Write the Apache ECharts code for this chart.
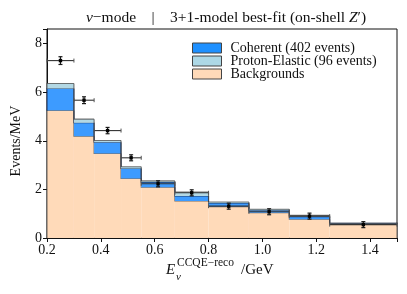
<!DOCTYPE html>
<html><head><meta charset="utf-8">
<script src="https://cdn.jsdelivr.net/npm/echarts@6/dist/echarts.min.js"></script>
<style>html,body{margin:0;padding:0;background:#fff}#c{width:407px;height:294px}</style>
</head><body><div id="c"></div>
<script>
// ---- data (Events/MeV) ----
const binEdges = [0.2, 0.3, 0.375, 0.475, 0.55, 0.675, 0.8, 0.95, 1.1, 1.25, 1.5];
const backgrounds   = [5.25, 4.19, 3.48, 2.45, 2.09, 1.52, 1.29, 1.04, 0.77, 0.57];
const coherent      = [0.90, 0.55, 0.46, 0.41, 0.21, 0.21, 0.15, 0.10, 0.11, 0.03];
const protonElastic = [0.21, 0.15, 0.07, 0.07, 0.05, 0.16, 0.04, 0.04, 0.05, 0.01];
const dataValues    = [7.30, 5.67, 4.42, 3.30, 2.23, 1.86, 1.31, 1.08, 0.90, 0.55];
const dataErrors    = [0.16, 0.14, 0.13, 0.11, 0.08, 0.07, 0.05, 0.05, 0.05, 0.03];
const xTicks = [0.2, 0.4, 0.6, 0.8, 1.0, 1.2, 1.4];
const yTicks = [0, 2, 4, 6, 8];
const seriesNames = ['Coherent (402 events)', 'Proton-Elastic (96 events)', 'Backgrounds'];

const SERIF = '"Liberation Serif", "DejaVu Serif", serif';

function layerData(bottoms, heights) {
  const out = [];
  for (let i = 0; i < heights.length; i++) {
    const b = bottoms[i], t = bottoms[i] + heights[i];
    const prevTop = i > 0 ? bottoms[i - 1] + heights[i - 1] : b;
    out.push([binEdges[i], binEdges[i + 1], b, t, prevTop, i === heights.length - 1 ? 1 : 0]);
  }
  return out;
}
const zeros = backgrounds.map(() => 0);
const cohBottom = backgrounds.slice();
const peBottom = backgrounds.map((v, i) => v + coherent[i]);

function makeLayerRender(fill, stroke) {
  return function (params, api) {
    const x0 = api.value(0), x1 = api.value(1), b = api.value(2), t = api.value(3);
    const prevTop = api.value(4), isLast = api.value(5);
    const pb0 = api.coord([x0, b]);
    const pt1 = api.coord([x1, t]);
    const pPrev = api.coord([x0, prevTop]);
    const pt0 = api.coord([x0, t]);
    const pb1 = api.coord([x1, b]);
    const children = [{
      type: 'rect',
      shape: { x: pb0[0], y: pt1[1], width: pt1[0] - pb0[0], height: pb0[1] - pt1[1] },
      style: { fill: fill }
    }];
    const pts = [[pPrev[0], pPrev[1]], [pt0[0], pt0[1]], [pt1[0], pt1[1]]];
    if (isLast) pts.push([pb1[0], pb1[1]]);
    children.push({
      type: 'polyline', shape: { points: pts },
      style: { stroke: stroke, lineWidth: 1.1, fill: null }
    });
    return { type: 'group', children: children };
  };
}

function dataRender(params, api) {
  const x0 = api.value(0), x1 = api.value(1), y = api.value(2), e = api.value(3);
  const xc = (x0 + x1) / 2;
  const pl = api.coord([x0, y]), pr = api.coord([x1, y]);
  const pc = api.coord([xc, y]);
  const pu = api.coord([xc, y + e]), pd = api.coord([xc, y - e]);
  const st = { stroke: '#1a1a1a', lineWidth: 1.2 };
  const yTop = Math.min(pu[1], pc[1] - 3), yBot = Math.max(pd[1], pc[1] + 3);
  return {
    type: 'group', children: [
      { type: 'line', shape: { x1: pl[0], y1: pl[1], x2: pr[0], y2: pr[1] }, style: { stroke: '#333', lineWidth: 1.1 } },
      { type: 'line', shape: { x1: pl[0], y1: pl[1] - 2, x2: pl[0], y2: pl[1] + 2 }, style: { stroke: '#555', lineWidth: 1 } },
      { type: 'line', shape: { x1: pr[0], y1: pr[1] - 2, x2: pr[0], y2: pr[1] + 2 }, style: { stroke: '#555', lineWidth: 1 } },
      { type: 'line', shape: { x1: pu[0], y1: yTop, x2: pd[0], y2: yBot }, style: st },
      { type: 'line', shape: { x1: pu[0] - 2, y1: yTop, x2: pu[0] + 2, y2: yTop }, style: st },
      { type: 'line', shape: { x1: pd[0] - 2, y1: yBot, x2: pd[0] + 2, y2: yBot }, style: st },
      { type: 'rect', shape: { x: pc[0] - 1.7, y: pc[1] - 1.7, width: 3.4, height: 3.4 }, style: { fill: '#000' } }
    ]
  };
}

const dataPts = dataValues.map((v, i) => [binEdges[i], binEdges[i + 1], v, dataErrors[i]]);

const chart = echarts.init(document.getElementById('c'), null, { renderer: 'canvas' });
chart.setOption({
  animation: false,
  backgroundColor: '#fff',
  title: {
    text: '{i|ν}−mode    |    3+1-model best-fit (on-shell {i|Z}′)',
    left: 221, textAlign: 'center', top: 5,
    textStyle: {
      fontFamily: SERIF, fontSize: 15.5, fontWeight: 'normal', color: '#111',
      rich: { i: { fontFamily: SERIF, fontSize: 15.5, fontStyle: 'italic', color: '#111' } }
    }
  },
  grid: { left: 47, right: 10, top: 29, bottom: 56, show: true, borderColor: '#111', borderWidth: 1, backgroundColor: 'transparent' },
  legend: {
    orient: 'vertical', left: 192, top: 41, padding: 0, itemWidth: 29, itemHeight: 10, itemGap: -1,
    selectedMode: false,
    textStyle: { fontFamily: SERIF, fontSize: 14, lineHeight: 10, color: '#111', padding: [0, 0, 0, 4] },
    data: [
      { name: seriesNames[0], icon: 'rect', itemStyle: { color: '#1e90ff', borderColor: '#444', borderWidth: 1 } },
      { name: seriesNames[1], icon: 'rect', itemStyle: { color: '#add8e6', borderColor: '#444', borderWidth: 1 } },
      { name: seriesNames[2], icon: 'rect', itemStyle: { color: '#ffdab9', borderColor: '#444', borderWidth: 1 } }
    ]
  },
  xAxis: {
    type: 'value', min: 0.2, max: 1.5, interval: 0.2,
    axisLine: { show: true, onZero: false, lineStyle: { color: '#111' } },
    axisTick: { show: true, length: 4, lineStyle: { color: '#111' } },
    splitLine: { show: false },
    axisLabel: {
      fontFamily: SERIF, fontSize: 14, color: '#111', margin: 5,
      formatter: function (v) {
        return xTicks.some(t => Math.abs(t - v) < 1e-6) ? v.toFixed(1) : '';
      }
    }
  },
  yAxis: {
    type: 'value', min: 0, max: 8.6, interval: 2,
    axisLine: { show: true, lineStyle: { color: '#111' } },
    axisTick: { show: true, length: 4, lineStyle: { color: '#111' } },
    splitLine: { show: false },
    axisLabel: {
      fontFamily: SERIF, fontSize: 14, color: '#111', margin: 5,
      formatter: function (v) { return yTicks.indexOf(v) >= 0 ? String(v) : ''; }
    }
  },
  graphic: [
    { type: 'text', rotation: Math.PI / 2, x: 16, y: 141, style: { text: 'Events/MeV', font: '14px ' + SERIF, fill: '#111', textAlign: 'center', textVerticalAlign: 'middle' } },
    { type: 'text', x: 166, y: 270, style: { text: 'E', font: 'italic 15px ' + SERIF, fill: '#111', textVerticalAlign: 'middle' } },
    { type: 'text', x: 177, y: 263, style: { text: 'CCQE−reco', font: '11.5px ' + SERIF, fill: '#111', textVerticalAlign: 'middle' } },
    { type: 'text', x: 176, y: 277, style: { text: 'ν', font: 'italic 11px ' + SERIF, fill: '#111', textVerticalAlign: 'middle' } },
    { type: 'text', x: 241, y: 270, style: { text: '/GeV', font: '15px ' + SERIF, fill: '#111', textVerticalAlign: 'middle' } }
  ],
  series: [
    { name: seriesNames[2], type: 'custom', renderItem: makeLayerRender('#ffdab9', 'rgba(60,60,60,0.7)'), data: layerData(zeros, backgrounds), encode: { x: [0, 1], y: [2, 3] }, z: 1, silent: true, itemStyle: { color: '#ffdab9' } },
    { name: seriesNames[0], type: 'custom', renderItem: makeLayerRender('#3d9bff', 'rgba(20,40,80,0.85)'), data: layerData(cohBottom, coherent), encode: { x: [0, 1], y: [2, 3] }, z: 2, silent: true, itemStyle: { color: '#1e90ff' } },
    { name: seriesNames[1], type: 'custom', renderItem: makeLayerRender('#b3d8e4', 'rgba(70,70,70,0.75)'), data: layerData(peBottom, protonElastic), encode: { x: [0, 1], y: [2, 3] }, z: 3, silent: true, itemStyle: { color: '#add8e6' } },
    { name: 'data', type: 'custom', renderItem: dataRender, data: dataPts, encode: { x: [0, 1], y: 2 }, z: 5, silent: true }
  ]
});
</script></body></html>
